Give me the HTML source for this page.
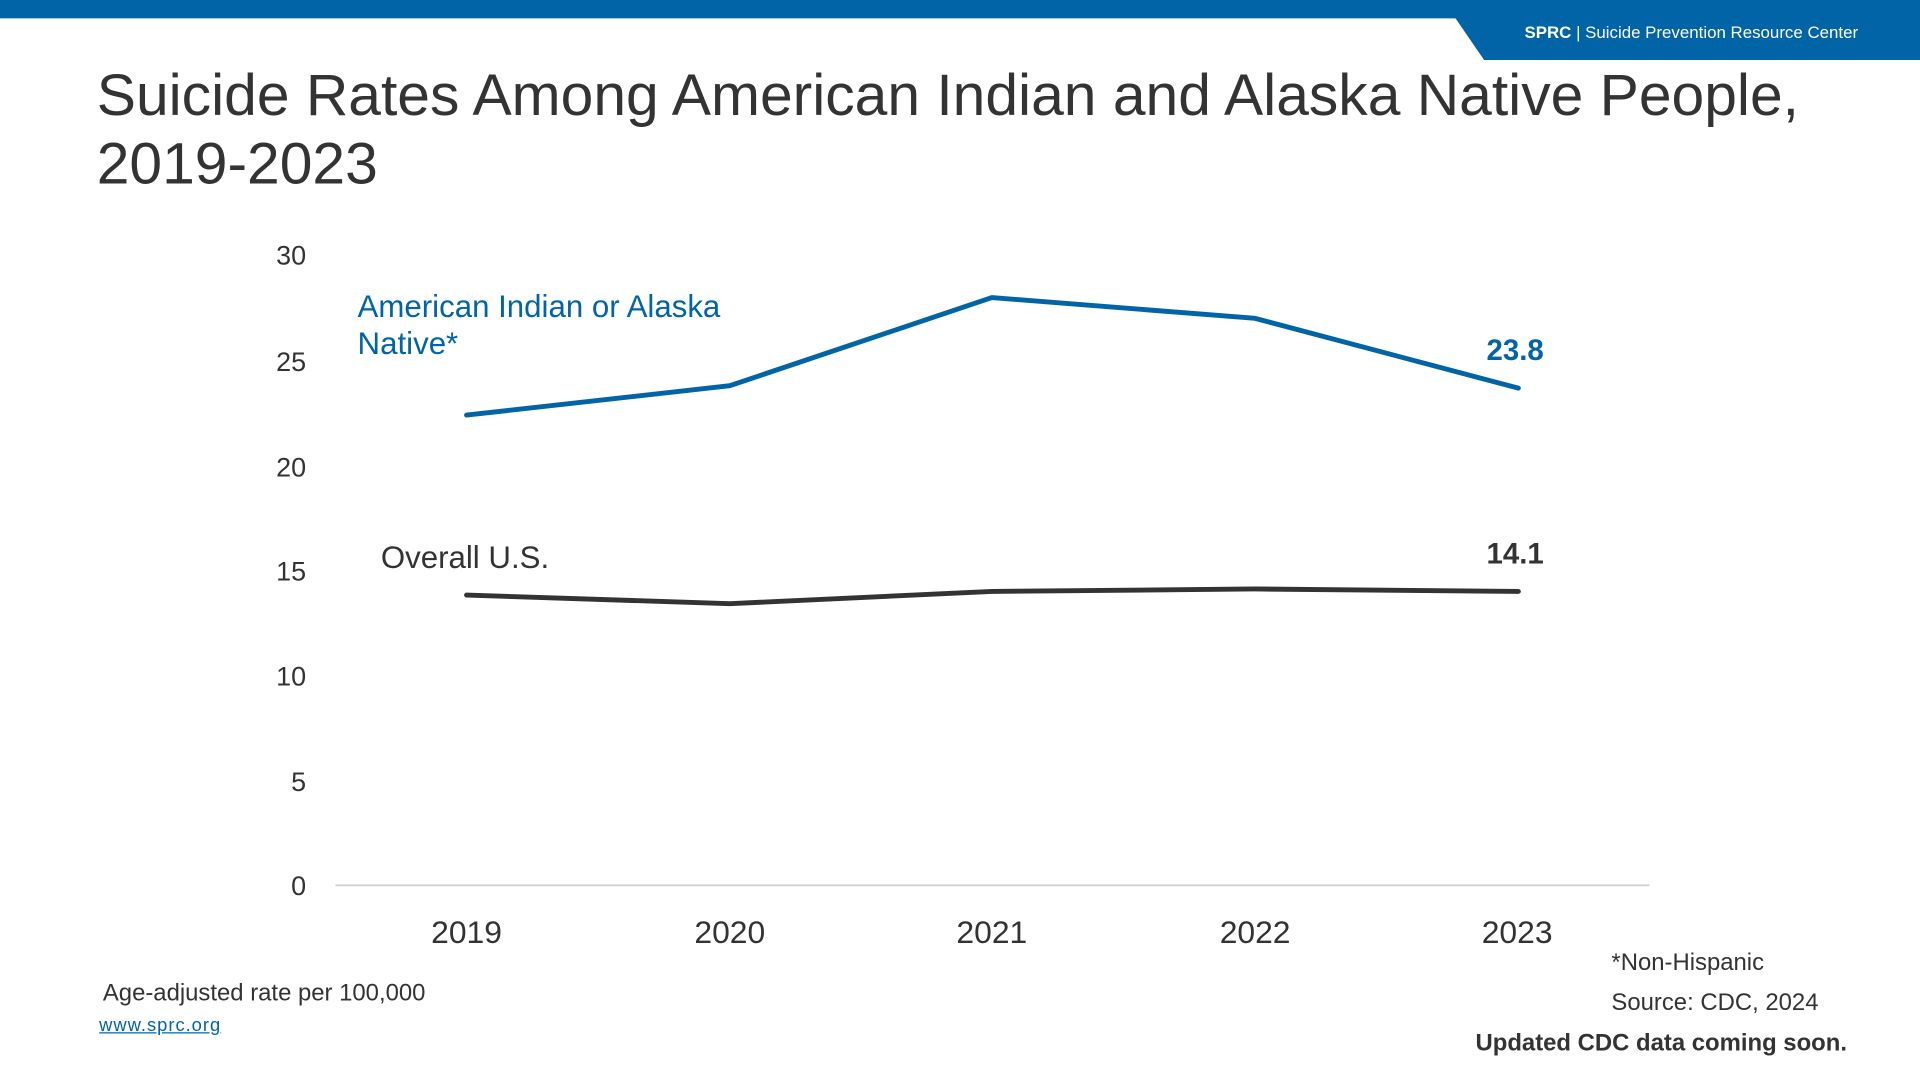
<!DOCTYPE html>
<html><head><meta charset="utf-8"><style>
html,body{margin:0;padding:0;background:#fff;overflow:hidden}
#w{position:absolute;left:0;top:0;width:1568px;height:882px;transform:scale(1.2244898);transform-origin:0 0;font-family:"Liberation Sans",Arial,sans-serif}
.t{position:absolute;white-space:nowrap}
</style></head><body><div id="w">
<svg width="1568" height="882" style="position:absolute;left:0;top:0">
<rect x="0" y="0" width="1568" height="15" fill="#0064a7"/>
<polygon points="1188,14 1568,14 1568,49 1212,49" fill="#0064a7"/>
<text x="1245" y="31" fill="#fff" font-size="13.8" font-family="Liberation Sans,sans-serif"><tspan font-weight="bold">SPRC</tspan>  |  Suicide Prevention Resource Center</text>
<line x1="274" y1="723" x2="1347" y2="723" stroke="#d0d0d0" stroke-width="1.5"/>
<polyline points="381,339 596,315 810,243 1025,260 1240,317" fill="none" stroke="#0064a7" stroke-width="4" stroke-linejoin="round" stroke-linecap="round"/>
<polyline points="381,486 596,493 810,483 1025,481 1240,483" fill="none" stroke="#333" stroke-width="4" stroke-linejoin="round" stroke-linecap="round"/>
</svg>
<div class="t" style="left:79px;top:51px;font-size:48px;color:#333;line-height:56px">Suicide Rates Among American Indian and Alaska Native People,<br>2019-2023</div>
<div class="t" style="left:200px;top:197px;width:50px;text-align:right;font-size:22px;color:#333;line-height:24px">30</div>
<div class="t" style="left:200px;top:283px;width:50px;text-align:right;font-size:22px;color:#333">25</div>
<div class="t" style="left:200px;top:369px;width:50px;text-align:right;font-size:22px;color:#333">20</div>
<div class="t" style="left:200px;top:454px;width:50px;text-align:right;font-size:22px;color:#333">15</div>
<div class="t" style="left:200px;top:540px;width:50px;text-align:right;font-size:22px;color:#333">10</div>
<div class="t" style="left:200px;top:626px;width:50px;text-align:right;font-size:22px;color:#333">5</div>
<div class="t" style="left:200px;top:711px;width:50px;text-align:right;font-size:22px;color:#333">0</div>
<div class="t" style="left:331px;top:746px;width:100px;text-align:center;font-size:26px;color:#333">2019</div>
<div class="t" style="left:546px;top:746px;width:100px;text-align:center;font-size:26px;color:#333">2020</div>
<div class="t" style="left:760px;top:746px;width:100px;text-align:center;font-size:26px;color:#333">2021</div>
<div class="t" style="left:975px;top:746px;width:100px;text-align:center;font-size:26px;color:#333">2022</div>
<div class="t" style="left:1189px;top:746px;width:100px;text-align:center;font-size:26px;color:#333">2023</div>
<div class="t" style="left:292px;top:236px;font-size:25.5px;color:#0064a7;line-height:30px">American Indian or Alaska<br>Native*</div>
<div class="t" style="left:1214px;top:273px;font-size:24px;font-weight:bold;color:#0064a7">23.8</div>
<div class="t" style="left:311px;top:442px;font-size:25.5px;color:#333">Overall U.S.</div>
<div class="t" style="left:1214px;top:439px;font-size:24px;font-weight:bold;color:#333">14.1</div>
<div class="t" style="left:84px;top:800px;font-size:19.5px;color:#333">Age-adjusted rate per 100,000</div>
<div class="t" style="left:81px;top:829px;font-size:15px;letter-spacing:0.8px;color:#0064a7;text-decoration:underline">www.sprc.org</div>
<div class="t" style="left:1316px;top:775px;font-size:19.5px;color:#333">*Non-Hispanic</div>
<div class="t" style="left:1316px;top:808px;font-size:19.5px;color:#333">Source: CDC, 2024</div>
<div class="t" style="left:1205px;top:841px;font-size:19.5px;font-weight:bold;color:#333">Updated CDC data coming soon.</div>
</div></body></html>
